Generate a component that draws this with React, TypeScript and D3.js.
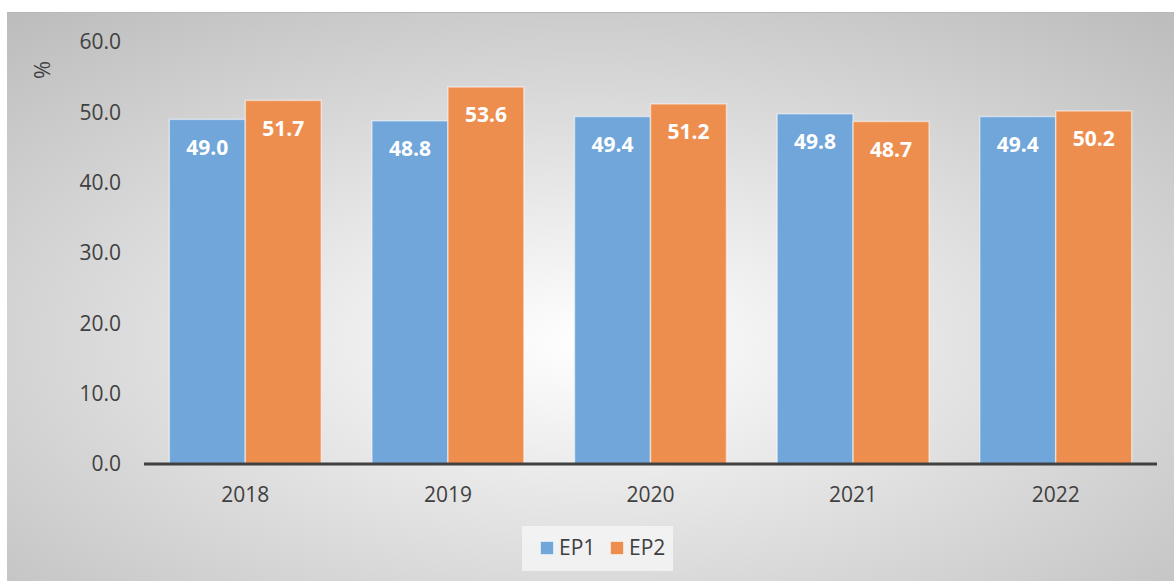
import React from 'react';
import * as d3 from 'd3';

const years = ['2018', '2019', '2020', '2021', '2022'];
const ep1 = [49.0, 48.8, 49.4, 49.8, 49.4];
const ep2 = [51.7, 53.6, 51.2, 48.7, 50.2];
const seriesNames = ['EP1', 'EP2'];
const yTicks = [0, 10, 20, 30, 40, 50, 60];

const COLORS = ['#70a6da', '#ee8e4e'];
const FONT = "'Open Sans', 'Noto Sans', sans-serif";

const W = 1174;
const H = 581;

export default function App() {
  const margin = { left: 144, right: 17, top: 42, bottom: 117 };
  const x0 = d3.scaleBand<string>().domain(years).range([margin.left, W - margin.right]).paddingInner(0.25).paddingOuter(0.125);
  const x1 = d3.scaleBand<string>().domain(seriesNames).range([0, x0.bandwidth()]);
  const y = d3.scaleLinear().domain([0, 60]).range([H - margin.bottom, margin.top]);

  const series = [ep1, ep2];

  return (
    <svg width={W} height={H} style={{ position: 'absolute', left: 0, top: 0, display: 'block' }}>
      <defs>
        <radialGradient id="bg" cx="50%" cy="58%" r="75%" gradientUnits="objectBoundingBox">
          <stop offset="0%" stopColor="#ffffff" />
          <stop offset="100%" stopColor="#bdbdbd" />
        </radialGradient>
      </defs>
      <rect x={0} y={0} width={W} height={H} fill="#ffffff" />
      <rect x={7} y={12} width={W - 7} height={H - 12} fill="url(#bg)" />
      <line x1={7} x2={W} y1={12.5} y2={12.5} stroke="#b8b8b8" strokeWidth={1} />

      {/* y tick labels */}
      {yTicks.map((t) => (
        <text key={t} x={121} y={y(t)} dy="0.35em" textAnchor="end" fontFamily={FONT} fontSize={21} fill="#404040">
          {d3.format('.1f')(t)}
        </text>
      ))}
      <text transform="translate(42,70) rotate(-90)" textAnchor="middle" dy="0.35em" fontFamily={FONT} fontSize={22} fill="#404040">
        %
      </text>

      {/* bars */}
      {years.map((yr, i) => (
        <g key={yr} transform={`translate(${x0(yr)},0)`}>
          {seriesNames.map((s, j) => {
            const v = series[j][i];
            const bx = x1(s)!;
            return (
              <g key={s}>
                <rect
                  x={bx}
                  y={y(v)}
                  width={x1.bandwidth()}
                  height={y(0) - y(v)}
                  fill={COLORS[j]}
                  stroke="#ffffff"
                  strokeOpacity={0.5}
                  strokeWidth={1.5}
                />
                <text
                  x={bx + x1.bandwidth() / 2}
                  y={y(v) + 28}
                  dy="0.35em"
                  textAnchor="middle"
                  fontFamily={FONT}
                  fontWeight="bold"
                  fontSize={21}
                  fill="#ffffff"
                >
                  {d3.format('.1f')(v)}
                </text>
              </g>
            );
          })}
          <text x={x0.bandwidth() / 2} y={495} dy="0.35em" textAnchor="middle" fontFamily={FONT} fontSize={21} fill="#404040">
            {yr}
          </text>
        </g>
      ))}

      {/* baseline */}
      <line x1={margin.left} x2={W - margin.right} y1={y(0)} y2={y(0)} stroke="#404040" strokeWidth={3} />

      {/* legend */}
      <rect x={522} y={526} width={151} height={45} fill="#f4f4f4" fillOpacity={0.85} />
      {seriesNames.map((s, j) => (
        <g key={s} transform={`translate(${540 + j * 70},541)`}>
          <rect x={0.5} y={0.5} width={13} height={13} fill={COLORS[j]} stroke="#ffffff" strokeOpacity={0.5} />
          <text x={19} y={7} dy="0.35em" fontFamily={FONT} fontSize={21} fill="#404040">
            {s}
          </text>
        </g>
      ))}
    </svg>
  );
}
